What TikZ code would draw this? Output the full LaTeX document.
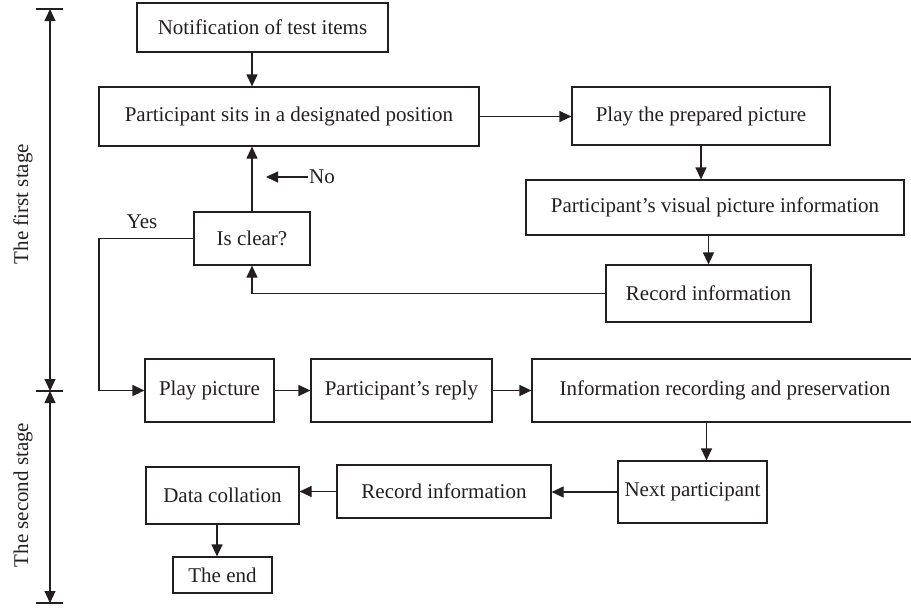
\documentclass[tikz,border=0pt]{standalone}
\usepackage{fontspec}
\setmainfont{Liberation Serif}
\usetikzlibrary{arrows.meta,calc}
\definecolor{ink}{HTML}{231F20}
\begin{document}
\begin{tikzpicture}[x=1pt,y=-1pt,
  every node/.style={font=\fontsize{21}{25}\selectfont, text=ink},
  box/.style={draw=ink, line width=1.2pt, rectangle, inner sep=0pt, minimum width=#1},
  arr/.style={draw=ink, line width=1.2pt, -{Triangle[length=12pt,width=11pt]}},
  ln/.style={draw=ink, line width=1.2pt},
  both/.style={draw=ink, line width=1.2pt, {Triangle[length=12pt,width=11pt]}-{Triangle[length=12pt,width=11pt]}}]
\useasboundingbox (0,0) rectangle (911,608);

% nodes
\node[box=251pt, minimum height=49pt] (notif) at (262.5,27.5) {Notification of test items};
\node[box=380pt, minimum height=59pt] (sits) at (289,116.5) {Participant sits in a designated position};
\node[box=258pt, minimum height=58pt] (play1) at (701,116) {Play the prepared picture};
\node[box=378pt, minimum height=55pt] (visual) at (715,207.5) {Participant’s visual picture information};
\node[box=205pt, minimum height=57pt] (rec1) at (708.5,293.5) {Record information};
\node[box=116pt, minimum height=53pt] (clear) at (252,238.5) {Is clear?};
\node[box=129pt, minimum height=63pt] (playpic) at (209.5,390.5) {Play picture};
\node[box=181pt, minimum height=63pt] (reply) at (401.5,390.5) {Participant’s reply};
\node[box=386pt, minimum height=63pt] (inforec) at (725,390.5) {Information recording and preservation};
\node[box=149pt, minimum height=62pt] (next) at (692.5,492) {Next participant};
\node[box=214pt, minimum height=53pt] (rec2) at (444,491.5) {Record information};
\node[box=153pt, minimum height=57pt] (collate) at (222.5,495.5) {Data collation};
\node[box=99pt, minimum height=36pt] (theend) at (222.5,575) {The end};

% labels
\node[anchor=west, inner sep=1pt] (no) at (308,177) {No};
\coordinate (noend) at (266,177);
\node (yes) at (142,222) {Yes};
\coordinate (yc) at (99,238.5);

% connectors
\draw[arr] (notif.south -| clear.north) -- (sits.north -| clear.north);
\draw[arr] (sits.east) -- (sits.east -| play1.west);
\draw[arr] (play1.south) -- (play1.south |- visual.north);
\draw[arr] (visual.south -| rec1.north) -- (rec1.north);
\draw[arr] (rec1.west) -| (clear.south);
\draw[arr] (clear.north) -- (clear.north |- sits.south);
\draw[arr] (no.west) -- (noend);
\draw[arr] (clear.west) -- (yc) |- (playpic.west);
\draw[arr] (playpic.east) -- (reply.west);
\draw[arr] (reply.east) -- (inforec.west);
\draw[arr] ([xshift=14pt]next.north |- inforec.south) -- ([xshift=14pt]next.north);
\draw[arr] (next.west) -- (next.west -| rec2.east);
\draw[arr] (rec2.west) -- (rec2.west -| collate.east);
\draw[arr] ([xshift=-5.5pt]collate.south) -- ([xshift=-5.5pt]theend.north);

% stage axis
\coordinate (atop) at (50,9);
\coordinate (amid) at (50,391);
\coordinate (abot) at (50,603);
\draw[ln] (36,9) -- (63,9);
\draw[ln] (36,391) -- (63,391);
\draw[ln] (36,603) -- (63,603);
\draw[both] (atop) -- (amid);
\draw[both] (amid) -- (abot);
\node[rotate=90] (s1) at (23,204) {The first stage};
\node[rotate=90] (s2) at (23,495) {The second stage};
\end{tikzpicture}
\end{document}
